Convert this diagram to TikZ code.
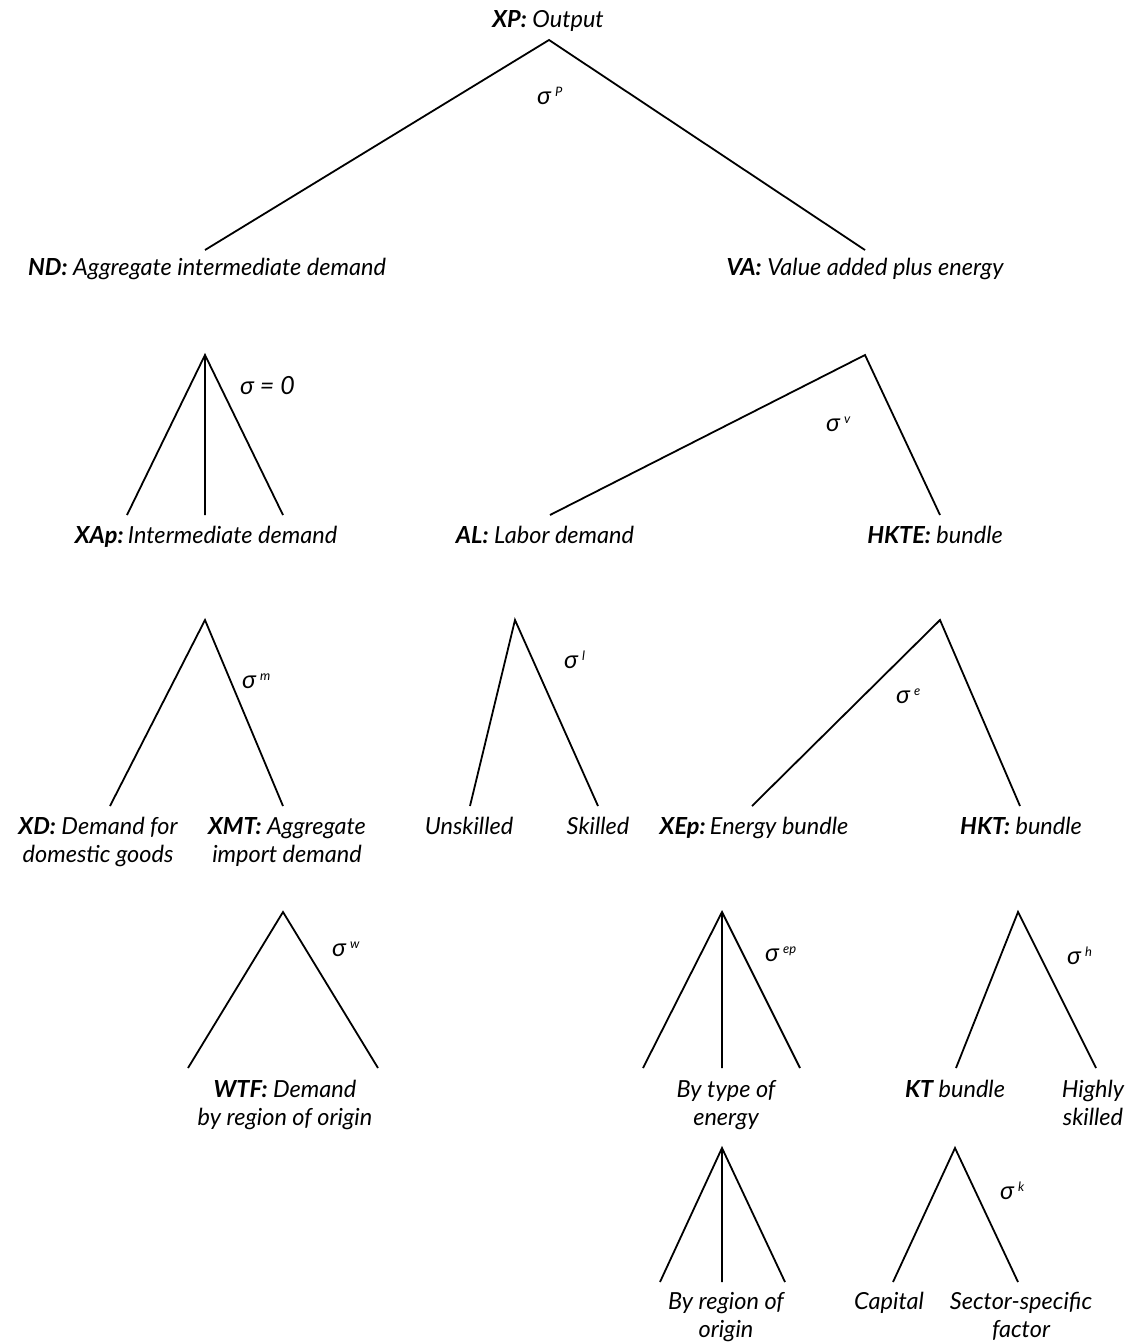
\documentclass[tikz,border=0pt]{standalone}
\usepackage{fontspec}
\setmainfont{Lato}
\usetikzlibrary{positioning}
\newcommand{\twoline}[2]{\begin{tabular}[t]{@{}c@{}}#1\\#2\end{tabular}}
\newcommand{\sig}[1]{σ\hspace{4pt}\raisebox{8pt}{\fontsize{13}{13}\selectfont #1}}
\newcommand{\key}[1]{{\bfseries #1}}

\begin{document}
\begin{tikzpicture}[x=1pt,y=-1pt,
    lbl/.style={anchor=base,inner sep=0pt,font=\itshape\fontsize{23.5}{28.5}\selectfont},
    el/.style={anchor=base west,inner sep=0pt,font=\itshape\fontsize{25}{28}\selectfont},
    br/.style={line width=1.8pt}]
    \useasboundingbox (0,0) rectangle (1128,1344);

    % labels
    \node[lbl] (xp)    at (548,27)   {\key{XP:} Output};
    \node[lbl] (nd)    at (207,275)  {\key{ND:} Aggregate intermediate demand};
    \node[lbl] (va)    at (865,275)  {\key{VA:} Value added plus energy};
    \node[lbl] (xap)   at (206,543)  {\key{XAp:}\hspace{-3pt} Intermediate demand};
    \node[lbl] (al)    at (545,543)  {\key{AL:} Labor demand};
    \node[lbl] (hkte)  at (935,543)  {\key{HKTE:} bundle};
    \node[lbl] (xd)    at (98,834)   {\twoline{\key{XD:} Demand for}{domestic goods}};
    \node[lbl] (xmt)   at (287,834)  {\twoline{\key{XMT:} Aggregate}{import demand}};
    \node[lbl] (unsk)  at (469,834)  {Unskilled};
    \node[lbl] (sk)    at (598,834)  {Skilled};
    \node[lbl] (xep)   at (754,834)  {\key{XEp:}\hspace{-3pt} Energy bundle};
    \node[lbl] (hkt)   at (1021,834) {\key{HKT:} bundle};
    \node[lbl] (wtf)   at (285,1097) {\twoline{\key{WTF:} Demand}{by region of origin}};
    \node[lbl] (btype) at (726,1097) {\twoline{By type of}{energy}};
    \node[lbl] (kt)    at (955,1097) {\key{KT} bundle};
    \node[lbl] (hsk)   at (1093,1097) {\twoline{Highly}{skilled}};
    \node[lbl] (breg)  at (726,1309) {\twoline{By region of}{origin}};
    \node[lbl] (cap)   at (889,1309) {Capital};
    \node[lbl] (ssf)   at (1021,1309) {\twoline{Sector-specific}{factor}};

    % elasticities
    \node[el] (s_p)  at (537,104)  {\sig{P}};
    \node[el] (s_0)  at (240,394)  {σ = 0};
    \node[el] (s_v)  at (826,431)  {\sig{v}};
    \node[el] (s_m)  at (242,688)  {\sig{m}};
    \node[el] (s_l)  at (564,668)  {\sig{l}};
    \node[el] (s_e)  at (896,703)  {\sig{e}};
    \node[el] (s_w)  at (332,956)  {\sig{w}};
    \node[el] (s_ep) at (765,961)  {\sig{ep}};
    \node[el] (s_h)  at (1067,964) {\sig{h}};
    \node[el] (s_k)  at (1000,1199) {\sig{k}};

    % branch points
    \coordinate (xp_t)   at (549,40);
    \coordinate (nd_u)   at (205,250);
    \coordinate (va_u)   at (865,250);
    \coordinate (nd_t)   at (205,355);
    \coordinate (xap_l)  at (127,515);
    \coordinate (xap_m)  at (205,515);
    \coordinate (xap_r)  at (283,515);
    \coordinate (va_t)   at (865,355);
    \coordinate (al_u)   at (550,515);
    \coordinate (hkte_u) at (940,515);
    \coordinate (xap_t)  at (205,620);
    \coordinate (xd_u)   at (110,806);
    \coordinate (xmt_u)  at (283,806);
    \coordinate (al_t)   at (515,620);
    \coordinate (unsk_u) at (470,806);
    \coordinate (sk_u)   at (598,806);
    \coordinate (hkte_t) at (940,620);
    \coordinate (xep_u)  at (752,806);
    \coordinate (hkt_u)  at (1020,806);
    \coordinate (xmt_t)  at (283,912);
    \coordinate (wtf_l)  at (188,1068);
    \coordinate (wtf_r)  at (378,1068);
    \coordinate (xep_t)  at (722,912);
    \coordinate (bt_l)   at (643,1068);
    \coordinate (bt_m)   at (722,1068);
    \coordinate (bt_r)   at (800,1068);
    \coordinate (hkt_t)  at (1018,912);
    \coordinate (kt_u)   at (956,1068);
    \coordinate (hsk_u)  at (1096,1068);
    \coordinate (bt_t)   at (722,1148);
    \coordinate (br_l)   at (660,1282);
    \coordinate (br_m)   at (722,1282);
    \coordinate (br_r)   at (785,1282);
    \coordinate (kt_t)   at (955,1148);
    \coordinate (cap_u)  at (893,1282);
    \coordinate (ssf_u)  at (1018,1282);

    % nests
    \draw[br] (nd_u) -- (xp_t) -- (va_u);
    \draw[br] (xap_l) -- (nd_t) -- (xap_r) (nd_t) -- (xap_m);
    \draw[br] (al_u) -- (va_t) -- (hkte_u);
    \draw[br] (xd_u) -- (xap_t) -- (xmt_u);
    \draw[br] (unsk_u) -- (al_t) -- (sk_u);
    \draw[br] (xep_u) -- (hkte_t) -- (hkt_u);
    \draw[br] (wtf_l) -- (xmt_t) -- (wtf_r);
    \draw[br] (bt_l) -- (xep_t) -- (bt_r) (xep_t) -- (bt_m);
    \draw[br] (kt_u) -- (hkt_t) -- (hsk_u);
    \draw[br] (br_l) -- (bt_t) -- (br_r) (bt_t) -- (br_m);
    \draw[br] (cap_u) -- (kt_t) -- (ssf_u);
\end{tikzpicture}
\end{document}
